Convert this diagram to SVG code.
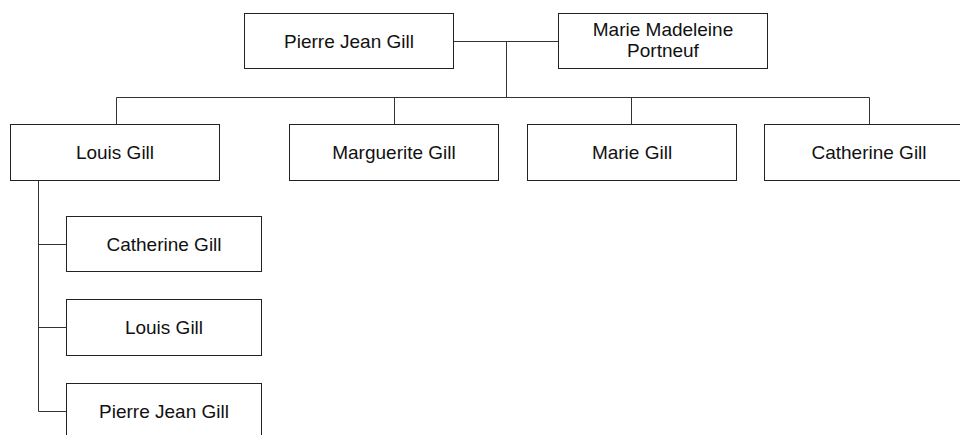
<svg xmlns="http://www.w3.org/2000/svg" width="960" height="435" viewBox="0 0 960 435">
<style>
.box{fill:#fff;stroke:#222;stroke-width:1}
.lbl{font-family:"Liberation Sans",Arial,sans-serif;font-size:19px;fill:#111;text-anchor:middle}
.conn{fill:none;stroke:#333;stroke-width:1}
</style>
<rect width="960" height="435" fill="#fff"/>
<g id="connectors">
<path class="conn" d="M453.5 41.5H558.5M506.5 41.5V97.5M116.5 97.5H869.5M116.5 97.5V124.5M394.5 97.5V124.5M631.5 97.5V124.5M869.5 97.5V124.5"/>
<path class="conn" d="M38.5 180.5V411.5M38.5 244.5H66.5M38.5 327.5H66.5M38.5 411.5H66.5"/>
</g>
<g id="pierre">
<rect class="box" x="244.5" y="13.5" width="209" height="55"/>
<text class="lbl" x="349" y="47.5">Pierre Jean Gill</text>
</g>
<g id="marie-madeleine">
<rect class="box" x="558.5" y="13.5" width="209" height="55"/>
<text class="lbl" x="663" y="36">Marie Madeleine</text>
<text class="lbl" x="663" y="57">Portneuf</text>
</g>
<g id="louis">
<rect class="box" x="10.5" y="124.5" width="209" height="56"/>
<text class="lbl" x="115" y="159">Louis Gill</text>
</g>
<g id="marguerite">
<rect class="box" x="289.5" y="124.5" width="209" height="56"/>
<text class="lbl" x="394" y="159">Marguerite Gill</text>
</g>
<g id="marie">
<rect class="box" x="527.5" y="124.5" width="209" height="56"/>
<text class="lbl" x="632" y="159">Marie Gill</text>
</g>
<g id="catherine">
<rect class="box" x="764.5" y="124.5" width="209" height="56"/>
<text class="lbl" x="869" y="159">Catherine Gill</text>
</g>
<g id="gc-catherine">
<rect class="box" x="66.5" y="216.5" width="195" height="55"/>
<text class="lbl" x="164" y="250.5">Catherine Gill</text>
</g>
<g id="gc-louis">
<rect class="box" x="66.5" y="299.5" width="195" height="56"/>
<text class="lbl" x="164" y="334">Louis Gill</text>
</g>
<g id="gc-pierre">
<rect class="box" x="66.5" y="383.5" width="195" height="56"/>
<text class="lbl" x="164" y="418">Pierre Jean Gill</text>
</g>
</svg>
